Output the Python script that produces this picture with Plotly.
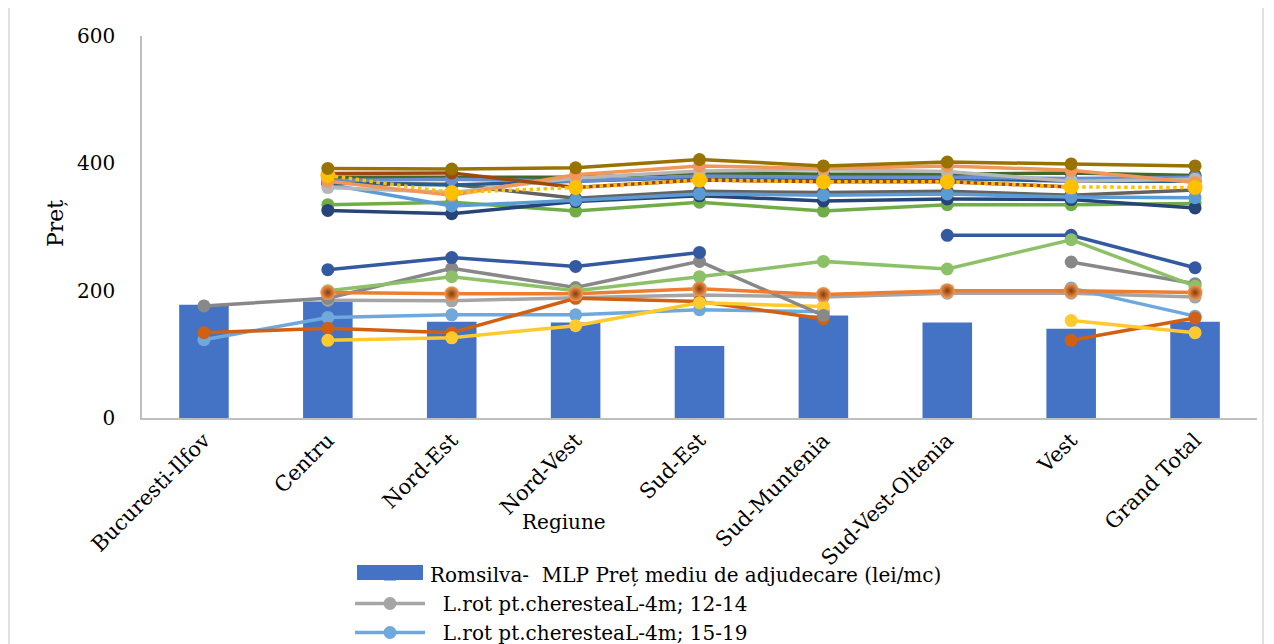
import plotly.graph_objects as go

categories = ["Bucuresti-Ilfov", "Centru", "Nord-Est", "Nord-Vest", "Sud-Est",
              "Sud-Muntenia", "Sud-Vest-Oltenia", "Vest", "Grand Total"]

romsilva = [178, 183, 151, 150, 113, 161, 150, 140, 151]

# lower cluster
s_12_14 = [None, 185, 184, 189, 193, 190, 196, 196, 190]
s_15_19 = [123, 158, 162, 162, 170, 167, None, 204, 160]
s_dark_orange = [134, 141, 134, 188, 183, 156, None, 122, 157]
s_yellow = [None, 122, 126, 145, 181, 175, None, 153, 134]
s_blue_low = [None, 233, 252, 238, 260, None, 287, 287, 236]
s_gray_low = [176, 188, 235, 205, 246, 161, None, 245, 211]
s_lgreen_low = [None, 200, 222, 200, 222, 246, 234, 280, 207]
s_orange_sphere = [None, 197, 195, 195, 203, 194, 200, 200, 197]

# upper cluster
s_green = [None, 335, 339, 325, 339, 325, 335, 335, 337]
s_navy = [None, 326, 321, 340, 349, 341, 344, 343, 330]
s_dgray = [None, 369, 367, 345, 356, 354, 356, 350, 358]
s_lblue_up = [None, 367, 333, 342, 352, 350, 352, 347, 346]
s_steel = [None, 369, 366, 372, 378, 375, 376, 372, 372]
s_mblue = [None, 373, 375, 372, 380, 378, 378, 376, 378]
s_lgray_up = [None, 362, 354, 377, 388, 390, 387, 372, 375]
s_salmon = [None, 372, 350, 382, 396, 392, 396, 389, 370]
s_dgreen = [None, 378, 378, 378, 385, 383, 383, 385, 381]
s_brown = [None, 384, 385, 362, 374, 371, 371, 363, None]
s_dotted = [None, 381, 354, 362, 374, 371, 371, 363, 362]
s_gold = [None, 392, 391, 393, 406, 396, 402, 399, 396]

FONT = "DejaVu Serif"
OFF = 8  # default page body margin
W, H = 1274 - OFF, 644 - OFF
L, R, T, B = 142 - OFF, (1274 - 1257), 36 - OFF, (644 - 418)
pw = W - L - R
ph = H - T - B


def px(x):  # page pixel -> paper x
    return (x - OFF - L) / pw


def py(y):  # page pixel -> paper y
    return (H - B - (y - OFF)) / ph


fig = go.Figure()

fig.add_trace(go.Bar(
    x=categories, y=romsilva, name="Romsilva-  MLP Preț mediu de adjudecare (lei/mc)",
    marker=dict(color="#4472C4", line=dict(width=0)), showlegend=True))


def line(y, name, color, legend=False, dash="solid", width=3.5, msize=13, marker=None):
    m = marker if marker is not None else dict(color=color, size=msize)
    fig.add_trace(go.Scatter(
        x=categories, y=y, name=name, mode="lines+markers",
        line=dict(color=color, width=width, dash=dash),
        marker=m, showlegend=legend))


nb = "\u00a0\u00a0"
line(s_12_14, nb + "L.rot pt.cheresteaL-4m; 12-14", "#A5A5A5", legend=True)
line(s_15_19, nb + "L.rot pt.cheresteaL-4m; 15-19", "#6FA8DC", legend=True)
line(s_dark_orange, "Seria 4", "#D26012")
line(s_yellow, "Seria 5", "#FFCA2E")
line(s_gray_low, "Seria 6", "#888888")
line(s_blue_low, "Seria 7", "#335AA1")
line(s_lgreen_low, "Seria 8", "#8CC168")
line(s_orange_sphere, "Seria 9", "#ED7D31",
     marker=dict(color="#F39A55", size=15,
                 gradient=dict(type="radial", color="#8A3A08"),
                 line=dict(width=0)))
line(s_green, "Seria 10", "#70AD47")
line(s_navy, "Seria 11", "#264478")
line(s_dgray, "Seria 12", "#636363")
line(s_lblue_up, "Seria 13", "#5B9BD5")
line(s_steel, "Seria 14", "#255E91")
line(s_dgreen, "Seria 15", "#43682B")
line(s_mblue, "Seria 16", "#698ED0")
line(s_lgray_up, "Seria 17", "#B7B7B7")
line(s_salmon, "Seria 18", "#F1975A")
line(s_brown, "Seria 19", "#9E480E")
line(s_dotted, "Seria 20", "#FFC000", dash="dot", width=3.5, msize=15)
line(s_gold, "Seria 21", "#997300")

fig.update_layout(
    width=W, height=H,
    margin=dict(l=L, r=R, t=T, b=B, autoexpand=False),
    paper_bgcolor="white", plot_bgcolor="white",
    font=dict(family=FONT, size=19, color="#000000"),
    bargap=0.6,
    showlegend=True,
    legend=dict(x=px(350), y=py(555), xanchor="left", yanchor="top",
                orientation="v", itemwidth=70, font=dict(family=FONT, size=20),
                bgcolor="rgba(0,0,0,0)", tracegroupgap=0, traceorder="normal"),
    xaxis=dict(type="category", range=[-0.5, 8.5], tickangle=-45, automargin=False,
               showline=True, linecolor="#BFBFBF", linewidth=1.5,
               showgrid=False, ticks="", tickfont=dict(family=FONT, size=21),
               zeroline=False),
    yaxis=dict(range=[0, 600], tickvals=[0, 200, 400, 600], automargin=False,
               showline=True, linecolor="#BFBFBF", linewidth=1.5,
               showgrid=False, ticks="", ticklabelstandoff=21,
               tickfont=dict(family=FONT, size=20), zeroline=False),
    annotations=[
        dict(text="Regiune", x=px(564), y=py(522), xref="paper", yref="paper",
             xanchor="center", yanchor="middle",
             showarrow=False, font=dict(family=FONT, size=20)),
        dict(text="Preț", x=px(55), y=py(224), xref="paper", yref="paper",
             xanchor="center", yanchor="middle",
             showarrow=False, textangle=-90, font=dict(family=FONT, size=22)),
    ],
    shapes=[
        dict(type="rect", xref="paper", yref="paper", x0=px(357), x1=px(423),
             y0=py(565), y1=py(580), fillcolor="#4472C4", line=dict(width=0)),
        dict(type="line", xref="paper", yref="paper", x0=px(9), x1=px(9),
             y0=py(0), y1=py(700), line=dict(color="#D9D9D9", width=1.5)),
        dict(type="line", xref="paper", yref="paper", x0=px(1263), x1=px(1263),
             y0=py(0), y1=py(700), line=dict(color="#D9D9D9", width=1.5)),
    ],
)

fig.write_html("out.html")
